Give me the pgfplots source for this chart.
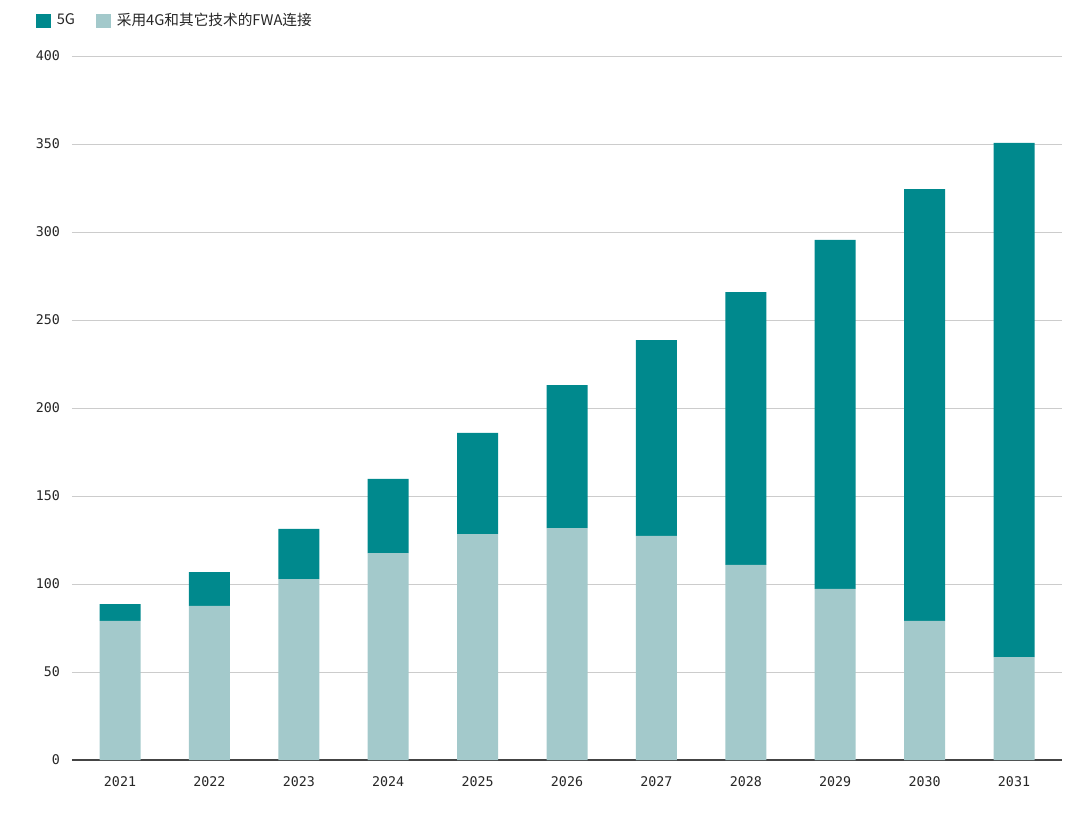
\documentclass[border=0pt]{standalone}
\usepackage{fontspec}
\usepackage{pgfplots}
\pgfplotsset{compat=1.18}
\setmainfont{DejaVu Sans Mono}
\newfontfamily\cjk{Noto Sans CJK SC}
\definecolor{darkteal}{HTML}{00898D}
\definecolor{lightteal}{HTML}{A3C9CB}
\definecolor{gridgray}{HTML}{CCCCCC}
\definecolor{axisgray}{HTML}{444444}
\begin{document}
\begin{tikzpicture}
\path[use as bounding box] (-54pt,-39.75pt) rectangle (756pt,570pt);
\begin{axis}[
  at={(0,0)}, anchor=south west,
  scale only axis,
  width=742.5pt, height=528pt,
  ybar stacked,
  bar width=30.75pt,
  xmin=-0.537, xmax=10.537,
  ymin=0, ymax=400,
  ytick={0,50,...,400},
  xtick={0,...,10},
  xticklabels={2021,2022,2023,2024,2025,2026,2027,2028,2029,2030,2031},
  /pgf/number format/assume math mode=true,
  ticklabel style={font=\fontsize{10pt}{12pt}\selectfont, text=black!85},
  major tick length=0pt,
  ymajorgrids,
  grid style={gridgray, line width=0.6pt},
  axis x line*=bottom,
  axis y line*=left,
  y axis line style={draw=none},
  x axis line style={axisgray, line width=0.8pt, -},
  yticklabel style={xshift=-5.5pt},
  xticklabel style={yshift=-9pt},
  legend style={at={(axis description cs:0,1)}, anchor=south west,
    xshift=-30pt, yshift=17pt, draw=none, fill=none,
    font=\cjk\fontsize{11pt}{13pt}\selectfont, text=black!85,
    /tikz/every even column/.append style={column sep=14pt}},
  legend columns=-1,
  legend image code/.code={\fill[#1] (0pt,-5pt) rectangle (10pt,5pt);},
  clip=false,
]
\addplot[fill=lightteal, draw=none, forget plot] coordinates {
(0,79) (1,87.5) (2,102.8) (3,117.6) (4,128.4) (5,131.8) (6,127.3) (7,110.8) (8,97.2) (9,79) (10,58.5)};
\addplot[fill=darkteal, draw=none, forget plot] coordinates {
(0,9.6) (1,19.3) (2,28.45) (3,42.1) (4,57.4) (5,81.2) (6,111.3) (7,155.1) (8,198.3) (9,245.4) (10,292.1)};
\addlegendimage{darkteal}
\addlegendentry{\hspace{3pt}5G}
\addlegendimage{lightteal}
\addlegendentry{\hspace{3pt}采用4G和其它技术的FWA连接}
\end{axis}
\end{tikzpicture}
\end{document}
